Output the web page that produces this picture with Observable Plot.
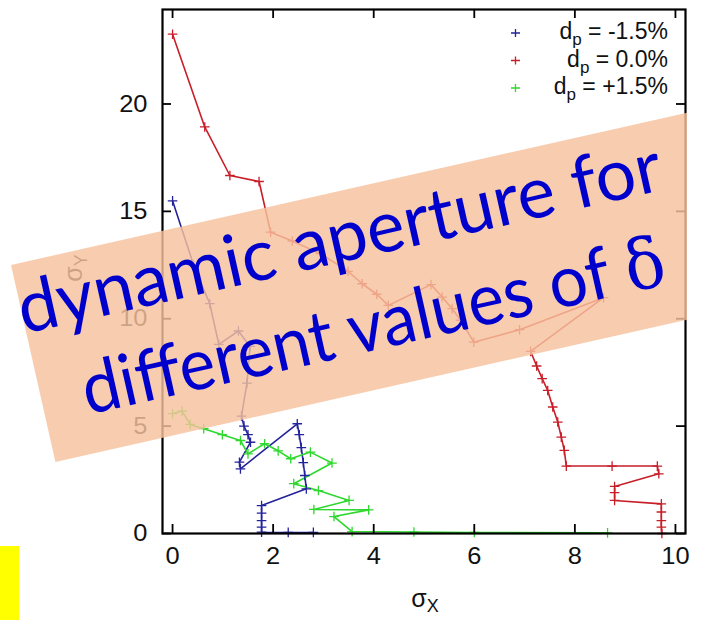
<!DOCTYPE html>
<html>
<head>
<meta charset="utf-8">
<script src="https://cdn.jsdelivr.net/npm/d3@7"></script>
<script src="https://cdn.jsdelivr.net/npm/@observablehq/plot@0.6"></script>
<style>
  html, body { margin: 0; padding: 0; background: #fff; }
  #chart { position: relative; width: 702px; height: 620px; overflow: hidden; }
</style>
</head>
<body>
<div id="chart"></div>
<script>
// Dynamic aperture boundaries (sigma_x, sigma_y) for three momentum offsets
const seriesKeys = ["-1.5", "0.0", "+1.5"];
const seriesLabels = ["-1.5%", "0.0%", "+1.5%"];
const seriesColors = ["#23239c", "#c81e28", "#2ed82e"];

const sxMinus = [0, 0.42, 0.74, 0.92, 1.31, 1.54, 1.48, 1.37, 1.42, 1.50, 1.55, 1.33, 1.35, 2.48, 2.52, 2.56, 2.60, 2.63, 2.66, 1.77, 1.77, 1.77, 1.77, 1.77, 2.30, 2.80];
const syMinus = [15.49, 12.49, 10.70, 8.81, 9.43, 8.71, 7.00, 5.47, 5.00, 4.60, 4.25, 3.32, 3.01, 5.11, 4.60, 4.00, 3.30, 2.70, 2.08, 1.30, 0.95, 0.60, 0.30, 0.06, 0.05, 0.05];

const sxZero = [0, 0.64, 1.14, 1.72, 1.95, 2.38, 2.94, 3.49, 3.77, 4.06, 4.29, 5.14, 5.36, 5.56, 5.73, 5.99, 6.90, 8.57, 7.12, 7.24, 7.35, 7.46, 7.56, 7.66, 7.73, 7.79, 7.83, 8.74, 9.64, 9.67, 8.79, 8.79, 8.79, 9.72, 9.72, 9.72, 9.72, 9.73];
const syZero = [23.25, 18.93, 16.67, 16.39, 14.03, 13.62, 13.03, 12.21, 11.63, 11.14, 10.62, 11.59, 11.01, 10.47, 9.93, 8.91, 9.49, 10.98, 8.48, 7.80, 7.21, 6.66, 5.89, 5.19, 4.49, 3.87, 3.14, 3.14, 3.14, 2.78, 2.19, 1.90, 1.54, 1.38, 1.00, 0.60, 0.30, 0.00];

const sxPlus = [0, 0.19, 0.35, 0.62, 0.99, 1.35, 1.50, 1.83, 2.10, 2.35, 2.74, 3.17, 2.41, 2.90, 3.51, 2.81, 3.90, 3.21, 3.57, 4.80, 6.00, 8.65];
const syPlus = [5.58, 5.70, 5.08, 4.88, 4.60, 4.33, 3.71, 4.18, 3.85, 3.48, 3.79, 3.28, 2.32, 2.00, 1.54, 1.12, 1.10, 0.79, 0.09, 0.07, 0.05, 0.03];

const xTicks = [0, 2, 4, 6, 8, 10];
const yTicks = [0, 5, 10, 15, 20];

const rows = [
  ...sxMinus.map((x, i) => ({series: seriesKeys[0], x, y: syMinus[i]})),
  ...sxZero.map((x, i) => ({series: seriesKeys[1], x, y: syZero[i]})),
  ...sxPlus.map((x, i) => ({series: seriesKeys[2], x, y: syPlus[i]}))
];

const W = 702, H = 620;
const M = {top: 9, right: 17, bottom: 87, left: 162};
const innerW = W - M.left - M.right;
const innerH = H - M.top - M.bottom;
const tick = 9;

const plot = Plot.plot({
  width: W,
  height: H,
  marginTop: M.top,
  marginRight: M.right,
  marginBottom: M.bottom,
  marginLeft: M.left,
  style: {fontFamily: "'Liberation Sans', Arial, sans-serif", fontSize: "24px", color: "#111", background: "#fff"},
  x: {domain: [-0.2, 10.2], label: null},
  y: {domain: [0, 24.4], label: null},
  color: {domain: seriesKeys, range: seriesColors},
  marks: [
    Plot.line(rows, {x: "x", y: "y", z: "series", stroke: "series", strokeWidth: 1.6}),
    Plot.dot(rows, {x: "x", y: "y", stroke: "series", symbol: "plus", r: 3.2, strokeWidth: 1.3}),
    // inward tick marks on all four sides
    Plot.tickX(xTicks, {x: d => d, insetTop: innerH - tick, stroke: "#000", strokeWidth: 1.8}),
    Plot.tickX(xTicks, {x: d => d, insetBottom: innerH - tick, stroke: "#000", strokeWidth: 1.8}),
    Plot.tickY(yTicks, {y: d => d, insetRight: innerW - tick, stroke: "#000", strokeWidth: 1.8}),
    Plot.tickY(yTicks, {y: d => d, insetLeft: innerW - tick, stroke: "#000", strokeWidth: 1.8}),
    Plot.axisX({ticks: xTicks, tickSize: 0, tickPadding: 13, tickFormat: d3.format("d"), fontSize: 24}),
    Plot.axisY({ticks: yTicks, tickSize: 0, tickPadding: 15, tickFormat: d3.format("d"), fontSize: 24}),
    Plot.frame({stroke: "#000", strokeWidth: 2.2})
  ]
});

document.getElementById("chart").appendChild(plot);

const svg = d3.select(plot);
const ns = "'Liberation Sans', Arial, sans-serif";

// slightly widened tick labels
svg.selectAll("[aria-label='x-axis tick label'] text, [aria-label='y-axis tick label'] text")
  .attr("transform", function () { return (this.getAttribute("transform") || "") + " scale(1.06,1)"; });

// axis titles with subscripts
const xt = svg.append("text")
  .attr("x", 425).attr("y", 607)
  .attr("text-anchor", "middle")
  .attr("font-family", ns).attr("font-size", 25).attr("fill", "#111");
xt.append("tspan").text("σ");
xt.append("tspan").attr("font-size", 18).attr("dy", 5).text("X");

const yt = svg.append("text")
  .attr("transform", "translate(82,268) rotate(-90)")
  .attr("text-anchor", "middle")
  .attr("font-family", ns).attr("font-size", 25).attr("fill", "#111");
yt.append("tspan").text("σ");
yt.append("tspan").attr("font-size", 18).attr("dy", 5).text("Y");

// key, top right inside the frame
const key = svg.append("g");
seriesKeys.forEach((k, i) => {
  const cy = 33 + i * 27.5;
  key.append("path")
    .attr("d", `M511,${cy}h9M515.5,${cy - 4}v8`)
    .attr("stroke", seriesColors[i]).attr("stroke-width", 1.3);
  const t = key.append("text")
    .attr("x", 668).attr("y", cy + 6)
    .attr("text-anchor", "end")
    .attr("font-family", ns).attr("font-size", 23).attr("fill", "#111");
  t.append("tspan").text("d");
  t.append("tspan").attr("font-size", 17).attr("dy", 6).text("p");
  t.append("tspan").attr("dy", -6).text(" = " + seriesLabels[i]);
});

// highlighted caption banner, cut off just right of the frame
svg.append("defs").append("clipPath").attr("id", "banner-clip")
  .append("rect").attr("x", 0).attr("y", 0).attr("width", 687).attr("height", H);
const banner = svg.append("g").attr("clip-path", "url(#banner-clip)")
  .append("g").attr("transform", "translate(11,265) rotate(-12.7)");
banner.append("rect")
  .attr("x", 0).attr("y", 0).attr("width", 700).attr("height", 202)
  .attr("fill", "#f6c29d").attr("fill-opacity", 0.82);
const bannerFont = "Lato, 'Open Sans', sans-serif";
banner.append("text")
  .attr("x", -3).attr("y", 70)
  .attr("text-anchor", "start")
  .attr("font-family", bannerFont).attr("font-size", 72).attr("fill", "#0000cc")
  .attr("textLength", 658).attr("lengthAdjust", "spacingAndGlyphs")
  .text("dynamic aperture for");
const l2 = banner.append("text")
  .attr("x", 42).attr("y", 163)
  .attr("text-anchor", "start")
  .attr("font-family", bannerFont).attr("font-size", 72).attr("fill", "#0000cc")
  .attr("textLength", 596).attr("lengthAdjust", "spacingAndGlyphs");
l2.append("tspan").text("different values of ");
l2.append("tspan").attr("font-family", "'DejaVu Serif', serif").attr("font-size", 70).text("δ");

// yellow marker at the lower left
svg.append("rect")
  .attr("x", 0).attr("y", 546).attr("width", 19).attr("height", 74)
  .attr("fill", "#ffff00");
</script>
</body>
</html>
